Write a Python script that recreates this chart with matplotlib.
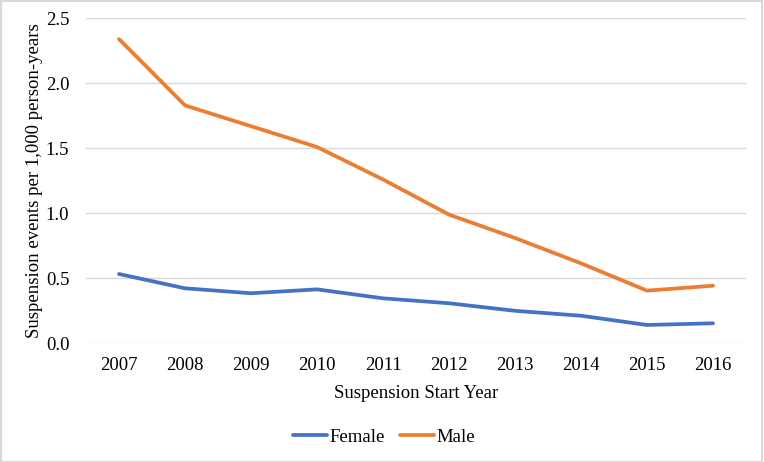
import numpy as np
import matplotlib.pyplot as plt

plt.rcParams['font.family'] = ['Liberation Serif', 'DejaVu Serif']

# data
years = ['2007', '2008', '2009', '2010', '2011', '2012', '2013', '2014', '2015', '2016']
female = [0.533, 0.423, 0.385, 0.415, 0.346, 0.308, 0.25, 0.212, 0.141, 0.154]
male = [2.34, 1.83, 1.67, 1.51, 1.26, 0.99, 0.81, 0.615, 0.405, 0.443]

fig = plt.figure(figsize=(7.64, 4.62), dpi=100)
ax = fig.add_axes([86 / 764, 1 - 343.3 / 462, 660 / 764, 325 / 462])

x = np.arange(len(years))
ax.plot(x, female, color='#4472C4', lw=2.7, label='Female', solid_capstyle='round')
ax.plot(x, male, color='#ED7D31', lw=2.7, label='Male', solid_capstyle='round')

ax.set_xlim(-0.5, len(years) - 0.5)
ax.set_ylim(0, 2.5)
ax.set_xticks(x)
ax.set_xticklabels(years)
ax.set_yticks(np.arange(0, 2.51, 0.5))
ax.set_yticklabels([f'{v:.1f}' for v in np.arange(0, 2.51, 0.5)])
ax.grid(axis='y', color='#D9D9D9', lw=1)
ax.set_axisbelow(True)
for s in ax.spines.values():
    s.set_visible(False)
ax.tick_params(length=0, labelsize=13.5, colors='#000000', pad=10)
ax.tick_params(axis='y', pad=12)

ax.set_xlabel('Suspension Start Year', fontsize=13.5, labelpad=8)
ax.set_ylabel('Suspension events per 1,000 person-years', fontsize=13.5, labelpad=2)

fig.legend(loc='center', bbox_to_anchor=(384 / 764, 1 - 437 / 462), ncol=2, frameon=False,
           fontsize=13.5, handlelength=1.8, handletextpad=0.1, columnspacing=0.85)

# light border round the figure
fig.patches.append(plt.Rectangle((0.001, 0.001), 0.997, 0.997, transform=fig.transFigure,
                                 fill=False, edgecolor='#D9D9D9', lw=1.5))

fig.savefig('out.png', dpi=100)
